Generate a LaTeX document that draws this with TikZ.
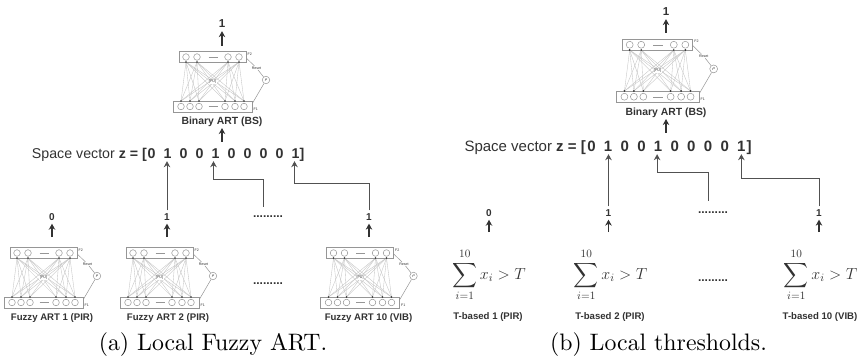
\documentclass[tikz,border=0pt]{standalone}
\usepackage{fix-cm}
\usepackage{amsmath}
\usepackage{fontspec}
\setsansfont{Liberation Sans}
\newfontfamily\capfont{lmroman10-regular.otf}
\usepackage{xcolor}
\usetikzlibrary{positioning,arrows.meta}
\definecolor{netgray}{RGB}{150,150,150}
\definecolor{linkgray}{RGB}{195,195,195}
\definecolor{inkgray}{RGB}{50,50,50}
\tikzset{
  layerbox/.style={draw=netgray, fill=white, line width=0.6pt, inner sep=0pt, transform shape},
  unit/.style={draw=netgray, fill=white, circle, line width=0.5pt, minimum size=6.6pt, inner sep=0pt, transform shape},
  tinytext/.style={font=\sffamily\fontsize{3.6}{4}\selectfont, text=inkgray, inner sep=0.5pt},
  artnet/.pic={
    \foreach \a in {-26.5,-15.5,15.5,26.5}
      \foreach \b in {-31.5,-22.5,-13.5,12.5,22.5,31.5}
        \draw[linkgray, line width=0.35pt] (\a,-20) -- (\b,19);
    \node[layerbox, minimum width=67pt, minimum height=10.5pt] (-f2) at (0,-25) {};
    \node[layerbox, minimum width=79pt, minimum height=11pt] (-f1) at (0,24.5) {};
    \foreach \a in {-26.5,-15.5,15.5,26.5} {
      \node[unit] at (\a,-25) {};
      \fill[inkgray] (\a,-20) circle (0.9pt);
    }
    \foreach \b in {-31.5,-22.5,-13.5,12.5,22.5,31.5} {
      \node[unit] at (\b,24.5) {};
      \fill[inkgray] (\b,19) circle (0.9pt);
    }
    \draw[netgray, line width=0.4pt] (-4,-25) -- (5,-25) (-4,24.5) -- (5,24.5);
    \node[tinytext, fill=white] (-pu) at (0,0) {[PU]};
    \node[tinytext, anchor=west] at (34.5,-28) {F2};
    \node[tinytext, anchor=west] at (40.5,27) {F1};
    \node[draw=netgray, fill=white, circle, line width=0.5pt, minimum size=7.5pt, inner sep=0pt, font=\fontsize{4}{4}\selectfont, transform shape] (-rho) at (53.5,-2) {$\rho$};
    \node[tinytext, fill=white] (-reset) at (44,-14) {Reset};
    \draw[netgray, line width=0.5pt] (-f2.east) ++(0,1) -- (-reset) -- (-rho);
    \draw[netgray, line width=0.5pt] (-rho) -- ([yshift=3pt]-f1.east);
  }
}
\begin{document}
\begin{tikzpicture}[
  x=1pt, y=-1pt,
  bitl/.style={font=\sffamily\bfseries\fontsize{14.2}{16}\selectfont, text=inkgray, anchor=base, inner sep=2pt},
  bitr/.style={bitl, font=\sffamily\bfseries\fontsize{15}{17}\selectfont},
  vecl/.style={font=\sffamily\fontsize{14.2}{16}\selectfont, text=inkgray, anchor=base east, inner sep=0pt},
  vecr/.style={vecl, font=\sffamily\fontsize{15}{17}\selectfont},
  outbit/.style={font=\sffamily\bfseries\fontsize{10}{12}\selectfont, text=inkgray, inner sep=3pt},
  topbit/.style={outbit, font=\sffamily\bfseries\fontsize{11.5}{13}\selectfont},
  dotted text/.style={font=\sffamily\bfseries\fontsize{12}{12}\selectfont, text=inkgray, inner sep=1pt},
  netlabel/.style={font=\sffamily\bfseries\fontsize{9.6}{11}\selectfont, text=inkgray, inner sep=1pt},
  toplabel/.style={netlabel, font=\sffamily\bfseries\fontsize{10.4}{12}\selectfont},
  formula/.style={font=\fontsize{16}{18}\selectfont, text=inkgray, inner sep=0pt},
  caption/.style={font=\capfont\fontsize{23.8}{28}\selectfont, text=black, inner sep=0pt},
  arr/.style={-{Stealth[length=6pt, width=6.5pt]}, line width=1.1pt, draw=inkgray},
  wire/.style={arr, line width=1pt, draw=inkgray!85}
]
\useasboundingbox (0,0) rectangle (859,358);

\pic (ltop) at (212.5,82) {artnet};
\pic (lnet1) at (43.5,278) {artnet};
\pic (lnet2) at (159.5,278) {artnet};
\pic (lnet10) at (360,278) {artnet};
\pic[scale=1.05] (rtop) at (657.5,71) {artnet};

\node[toplabel] (ltoplab) at (222,122) {Binary ART (BS)};
\node[netlabel] (llab1)   at (52,318)  {Fuzzy ART 1 (PIR)};
\node[netlabel] (llab2)   at (168,318) {Fuzzy ART 2 (PIR)};
\node[netlabel] (llab10)  at (368.5,318) {Fuzzy ART 10 (VIB)};
\node[toplabel] (rtoplab) at (666,113) {Binary ART (BS)};

\node[formula] (rsum1)  at (489,275) {$\displaystyle\sum_{i=1}^{10} x_i > T$};
\node[formula] (rsum2)  at (610.5,275) {$\displaystyle\sum_{i=1}^{10} x_i > T$};
\node[formula] (rsum10) at (820.5,275) {$\displaystyle\sum_{i=1}^{10} x_i > T$};
\node[netlabel] (rlab1)  at (488,317) {T-based 1 (PIR)};
\node[netlabel] (rlab2)  at (610,317) {T-based 2 (PIR)};
\node[netlabel] (rlab10) at (820,317) {T-based 10 (VIB)};

\node[vecl] (lvec) at (147,159) {Space vector \textbf{z = [}};
\foreach \v [count=\i] in {0,1,0,0,1,0,0,0,0,1}
  \node[bitl] (lb\i) at ({151.5+16*(\i-1)},159) {\v};
\node[bitl] (lend) at (302,159) {]};
\node[vecr] (rvec) at (586,152) {Space vector \textbf{z = [}};
\foreach \v [count=\i] in {0,1,0,0,1,0,0,0,0,1}
  \node[bitr] (rb\i) at ({591.5+16.65*(\i-1)},152) {\v};
\node[bitr] (rend) at (749,152) {]};

\node[topbit] (ltopout) at (222,24) {1};
\node[topbit] (rtopout) at (666,12) {1};
\node[outbit] (lo1)  at (52,217)  {0};
\node[outbit] (lo2)  at (167,217) {1};
\node[dotted text, anchor=base] (lodots) at (268,218) {.........};
\node[outbit] (lo10) at (369,217) {1};
\node[outbit] (ro1)  at (489,213) {0};
\node[outbit] (ro2)  at (608.5,213) {1};
\node[dotted text, anchor=base] (rodots) at (713,214) {.........};
\node[outbit] (ro10) at (819,213) {1};
\node[dotted text, anchor=base] (ldots) at (268,284) {.........};
\node[dotted text, anchor=base] (rdots) at (713,281) {.........};

\coordinate (ltopin) at (222,46);
\coordinate (rtopin) at (666,33);
\draw[arr] (ltopin) -- (ltopout);
\draw[arr] (rtopin) -- (rtopout);
\draw[arr] (222,142) -- (ltoplab);
\draw[arr] (666,133) -- (rtoplab);

\foreach \n/\x in {1/52,2/167,10/369} {
  \coordinate (ls\n) at (\x,237);
  \draw[arr] (ls\n) -- (lo\n);
}
\foreach \n/\x in {1/489,2/608.5,10/819} {
  \coordinate (rs\n) at (\x,232);
  \draw[arr] (rs\n) -- (ro\n);
}

\draw[wire] (lo2.north) -- (lo2.north |- lb2.south);
\coordinate (lsrc) at (263,207);
\draw[wire] (lsrc) -- ++(0,-27) -| ([xshift=-2pt]lb5.south);
\draw[wire] (lo10.north) -- ++(0,-27) -| ([xshift=-1pt]lb10.south);
\draw[wire] (ro2.north) -- (ro2.north |- rb2.south);
\coordinate (rsrc) at (708,201);
\draw[wire] (rsrc) -- ++(0,-28) -| ([xshift=-1pt]rb5.south);
\draw[wire] (ro10.north) -- ++(0,-28) -| (rb10.south);

\node[caption] (lcap) at (213,345) {(a) Local Fuzzy ART.};
\node[caption] (rcap) at (658.5,345) {(b) Local thresholds.};
\end{tikzpicture}
\end{document}
